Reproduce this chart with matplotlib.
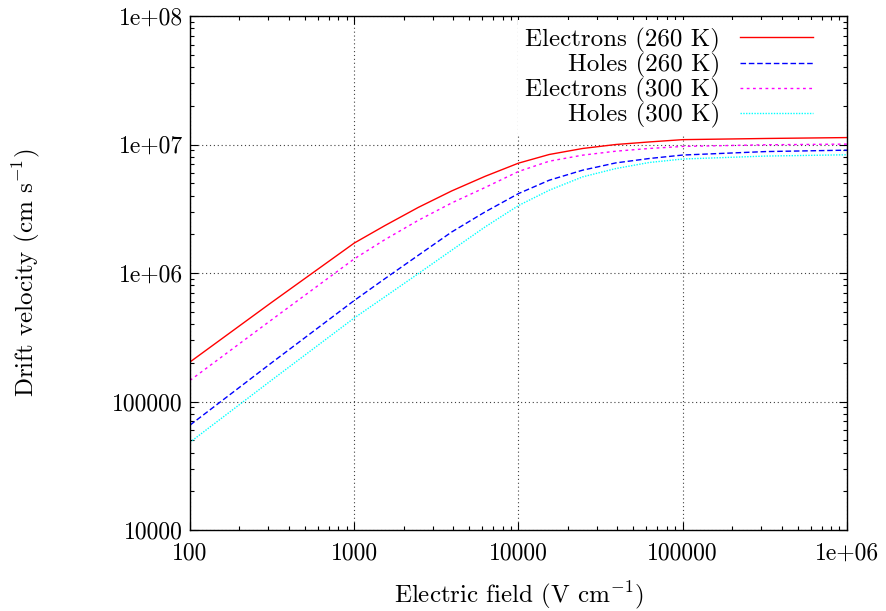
import numpy as np
import matplotlib
matplotlib.use("Agg")
import matplotlib.pyplot as plt
from matplotlib.ticker import FixedLocator, FuncFormatter, LogLocator, NullFormatter

plt.rcParams["font.family"] = "serif"
plt.rcParams["font.serif"] = ["cmr10"]
plt.rcParams["mathtext.fontset"] = "cm"
plt.rcParams["axes.unicode_minus"] = False
plt.rcParams["axes.formatter.use_mathtext"] = True

# (field in V/cm, velocity in cm/s)
field = [100, 313, 1000, 1538, 2455, 3917, 6252, 10000, 15380, 24550, 39170, 62520,
         100000, 320000, 1000000]
elec_260 = [2.03e5, 5.89e5, 1.71e6, 2.34e6, 3.24e6, 4.35e6, 5.65e6, 7.16e6, 8.36e6,
            9.31e6, 1.00e7, 1.047e7, 1.091e7, 1.114e7, 1.132e7]
holes_260 = [6.55e4, 1.995e5, 6.11e5, 9.04e5, 1.374e6, 2.084e6, 2.985e6, 4.15e6, 5.272e6,
             6.31e6, 7.194e6, 7.78e6, 8.279e6, 8.81e6, 9.036e6]
elec_300 = [1.459e5, 4.31e5, 1.288e6, 1.82e6, 2.57e6, 3.508e6, 4.624e6, 6.166e6, 7.413e6,
            8.26e6, 8.872e6, 9.311e6, 9.66e6, 9.95e6, 1.007e7]
holes_300 = [4.82e4, 1.462e5, 4.467e5, 6.53e5, 9.89e5, 1.503e6, 2.28e6, 3.35e6, 4.406e6,
             5.598e6, 6.501e6, 7.244e6, 7.709e6, 8.128e6, 8.318e6]

fig = plt.figure(figsize=(8.87, 6.11), dpi=100)
ax = fig.add_axes([190 / 887, 81 / 611, 657 / 887, 514 / 611])

ax.plot(field, elec_260, color="#ff0000", lw=1.0, ls="-", label="Electrons (260 K)")
ax.plot(field, holes_260, color="#0000ff", lw=1.0, ls=(0, (4, 2)), label="Holes (260 K)")
ax.plot(field, elec_300, color="#ff00ff", lw=1.0, ls=(0, (2, 2.5)), label="Electrons (300 K)")
ax.plot(field, holes_300, color="#00ffff", lw=1.0, ls=(0, (1, 1)), label="Holes (300 K)")

ax.set_xscale("log")
ax.set_yscale("log")
ax.set_xlim(100, 1e6)
ax.set_ylim(1e4, 1e8)


def fmt(v, pos):
    e = int(round(np.log10(v)))
    if e >= 6:
        return "1e+%02d" % e
    return "%d" % round(v)


ax.xaxis.set_major_locator(FixedLocator([1e2, 1e3, 1e4, 1e5, 1e6]))
ax.yaxis.set_major_locator(FixedLocator([1e4, 1e5, 1e6, 1e7, 1e8]))
ax.xaxis.set_major_formatter(FuncFormatter(fmt))
ax.yaxis.set_major_formatter(FuncFormatter(fmt))
ax.xaxis.set_minor_locator(LogLocator(base=10, subs=np.arange(2, 10)))
ax.yaxis.set_minor_locator(LogLocator(base=10, subs=np.arange(2, 10)))
ax.xaxis.set_minor_formatter(NullFormatter())
ax.yaxis.set_minor_formatter(NullFormatter())

ax.tick_params(which="both", direction="in", top=True, right=True, labelsize=17, width=0.8)
ax.tick_params(which="major", length=6)
ax.tick_params(which="minor", length=3)
ax.tick_params(axis="x", which="major", pad=9)
ax.tick_params(axis="y", which="major", pad=5)
for s in ax.spines.values():
    s.set_linewidth(1.0)

ax.grid(True, which="major", color="0.25", lw=0.8, ls=(0, (1, 2.5)))

ax.set_xlabel("Electric field (V cm$^{-1}$)", fontsize=18, labelpad=10.5)
ax.set_ylabel("Drift velocity (cm s$^{-1}$)", fontsize=18, labelpad=51)

leg = ax.legend(loc="upper right", bbox_to_anchor=(0.9597, 0.992), markerfirst=False,
                fontsize=18, handlelength=2.92, handletextpad=0.8, labelspacing=0.0,
                borderaxespad=0.0, borderpad=0.3, frameon=True, fancybox=False, framealpha=1)
leg.get_frame().set_edgecolor("none")
leg.get_frame().set_facecolor("white")

fig.savefig("out.png", dpi=100)
